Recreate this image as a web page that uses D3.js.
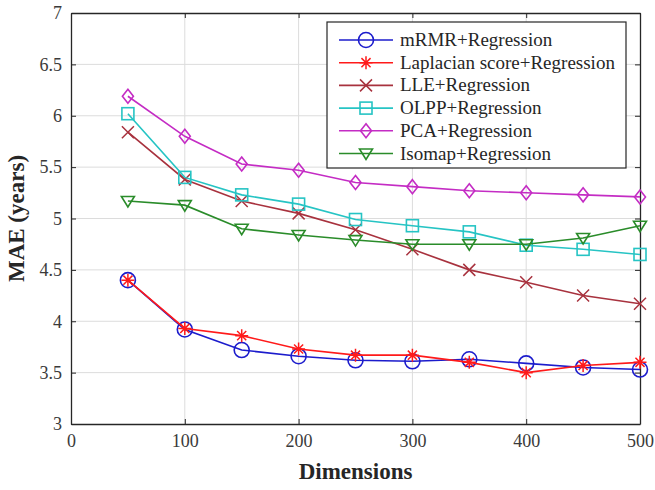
<!DOCTYPE html>
<html>
<head>
<meta charset="utf-8">
<script src="https://cdn.jsdelivr.net/npm/d3@7"></script>
<style>
  body { margin: 0; background: #fff; }
</style>
</head>
<body>
<script>
// data
const dims = [50, 100, 150, 200, 250, 300, 350, 400, 450, 500];
const mrmr = [4.40, 3.92, 3.72, 3.66, 3.62, 3.61, 3.63, 3.59, 3.55, 3.53];
const laplacian = [4.40, 3.93, 3.86, 3.73, 3.67, 3.67, 3.60, 3.50, 3.57, 3.60];
const lle = [5.84, 5.38, 5.17, 5.05, 4.89, 4.70, 4.50, 4.38, 4.25, 4.17];
const olpp = [6.02, 5.40, 5.23, 5.14, 4.99, 4.93, 4.87, 4.74, 4.70, 4.65];
const pca = [6.19, 5.80, 5.53, 5.47, 5.35, 5.31, 5.27, 5.25, 5.23, 5.21];
const isomap = [5.17, 5.13, 4.90, 4.84, 4.79, 4.75, 4.75, 4.75, 4.81, 4.93];
const xTicks = [0, 100, 200, 300, 400, 500];
const yTicks = [3, 3.5, 4, 4.5, 5, 5.5, 6, 6.5, 7];

const series = [
  {name: "mRMR+Regression", values: mrmr, color: "#1c1ccc", marker: "circle"},
  {name: "Laplacian score+Regression", values: laplacian, color: "#ff1a1a", marker: "star"},
  {name: "LLE+Regression", values: lle, color: "#a8323e", marker: "x"},
  {name: "OLPP+Regression", values: olpp, color: "#26c4c4", marker: "square"},
  {name: "PCA+Regression", values: pca, color: "#c42cc4", marker: "diamond"},
  {name: "Isomap+Regression", values: isomap, color: "#2a8c2a", marker: "triangle"}
];

const SERIF = "Liberation Serif";

const W = 655, H = 490;
const margin = {top: 13, right: 15, bottom: 66, left: 71};
const width = W - margin.left - margin.right,
      height = H - margin.top - margin.bottom;

const x = d3.scaleLinear().domain([0, 500]).range([0, width]);
const y = d3.scaleLinear().domain([3, 7]).range([height, 0]);

const svg = d3.select("body").append("svg")
    .attr("width", W)
    .attr("height", H);
const g = svg.append("g")
    .attr("transform", "translate(" + margin.left + "," + margin.top + ")");

// grid
g.append("g").selectAll("line").data(xTicks.slice(1, -1)).join("line")
    .attr("x1", d => x(d)).attr("x2", d => x(d))
    .attr("y1", 0).attr("y2", height)
    .attr("stroke", "#dcdcdc").attr("stroke-width", 1);
g.append("g").selectAll("line").data(yTicks.slice(1, -1)).join("line")
    .attr("y1", d => y(d)).attr("y2", d => y(d))
    .attr("x1", 0).attr("x2", width)
    .attr("stroke", "#dcdcdc").attr("stroke-width", 1);

// axes (ticks point inward, box all round)
const axisColor = "#262626";
function styleAxis(sel) {
  sel.select(".domain").attr("stroke", axisColor).attr("stroke-width", 1.3);
  sel.selectAll(".tick line").attr("stroke", axisColor);
  sel.selectAll(".tick text")
      .attr("fill", "#3a3a3a")
      .style("font-family", SERIF)
      .style("font-size", "18px");
}

const fmt = d => String(d);

g.append("g")
    .attr("transform", "translate(0," + height + ")")
    .call(d3.axisBottom(x).tickValues(xTicks).tickFormat(fmt).tickSize(-5).tickPadding(10).tickSizeOuter(0))
    .call(styleAxis);
g.append("g")
    .call(d3.axisTop(x).tickValues(xTicks).tickSize(-5).tickFormat("").tickSizeOuter(0))
    .call(styleAxis);
g.append("g")
    .call(d3.axisLeft(y).tickValues(yTicks).tickFormat(fmt).tickSize(-5).tickPadding(9).tickSizeOuter(0))
    .call(styleAxis);
g.append("g")
    .attr("transform", "translate(" + width + ",0)")
    .call(d3.axisRight(y).tickValues(yTicks).tickSize(-5).tickFormat("").tickSizeOuter(0))
    .call(styleAxis);

// axis titles
svg.append("text")
    .attr("x", margin.left + width / 2)
    .attr("y", 479)
    .attr("text-anchor", "middle")
    .style("font-family", SERIF)
    .style("font-size", "23px")
    .style("font-weight", "bold")
    .attr("fill", "#262626")
    .text("Dimensions");
svg.append("text")
    .attr("transform", "translate(24," + (margin.top + height / 2) + ") rotate(-90)")
    .attr("text-anchor", "middle")
    .style("font-family", SERIF)
    .style("font-size", "23px")
    .style("font-weight", "bold")
    .attr("fill", "#262626")
    .text("MAE (years)");

// markers
function drawMarker(sel, type, color) {
  if (type === "circle") {
    sel.append("circle").attr("r", 7.5)
        .attr("fill", "none").attr("stroke", color).attr("stroke-width", 1.6);
  } else if (type === "square") {
    sel.append("rect").attr("x", -6).attr("y", -6).attr("width", 12).attr("height", 12)
        .attr("fill", "none").attr("stroke", color).attr("stroke-width", 1.6);
  } else if (type === "diamond") {
    sel.append("path").attr("d", d3.line()([[0, -7], [5.5, 0], [0, 7], [-5.5, 0]]) + "Z")
        .attr("fill", "none").attr("stroke", color).attr("stroke-width", 1.6);
  } else if (type === "triangle") {
    sel.append("path").attr("d", d3.line()([[-6.5, -4.5], [6.5, -4.5], [0, 6]]) + "Z")
        .attr("fill", "none").attr("stroke", color).attr("stroke-width", 1.6);
  } else if (type === "x") {
    const s = 6;
    sel.append("path").attr("d", "M" + -s + "," + -s + "L" + s + "," + s + "M" + -s + "," + s + "L" + s + "," + -s)
        .attr("stroke", color).attr("stroke-width", 1.5);
  } else if (type === "star") {
    const a = 6.5;
    sel.append("path")
        .attr("d", "M0," + -a + "V" + a + "M" + -a + ",0H" + a +
              "M" + -a * 0.7 + "," + -a * 0.7 + "L" + a * 0.7 + "," + a * 0.7 +
              "M" + -a * 0.7 + "," + a * 0.7 + "L" + a * 0.7 + "," + -a * 0.7)
        .attr("stroke", color).attr("stroke-width", 1.5);
  }
}

const line = d3.line()
    .x((d, i) => x(dims[i]))
    .y(d => y(d));

series.forEach(function (s) {
  g.append("path")
      .datum(s.values)
      .attr("fill", "none")
      .attr("stroke", s.color)
      .attr("stroke-width", 1.6)
      .attr("d", line);
  g.append("g").selectAll("g").data(s.values).join("g")
      .attr("transform", (d, i) => "translate(" + x(dims[i]) + "," + y(d) + ")")
      .each(function () { drawMarker(d3.select(this), s.marker, s.color); });
});

// legend
const lg = svg.append("g").attr("transform", "translate(327,22)");
lg.append("rect")
    .attr("width", 299).attr("height", 146)
    .attr("fill", "#fff").attr("stroke", "#262626").attr("stroke-width", 1.2);
series.forEach(function (s, i) {
  const row = lg.append("g").attr("transform", "translate(0," + (18 + i * 22.7) + ")");
  row.append("line").attr("x1", 12).attr("x2", 66).attr("y1", 0).attr("y2", 0)
      .attr("stroke", s.color).attr("stroke-width", 1.6);
  drawMarker(row.append("g").attr("transform", "translate(39,0)"), s.marker, s.color);
  row.append("text")
      .attr("x", 73).attr("y", 6)
      .style("font-family", SERIF)
      .style("font-size", "19px")
      .attr("fill", "#262626")
      .text(s.name);
});
</script>
</body>
</html>
